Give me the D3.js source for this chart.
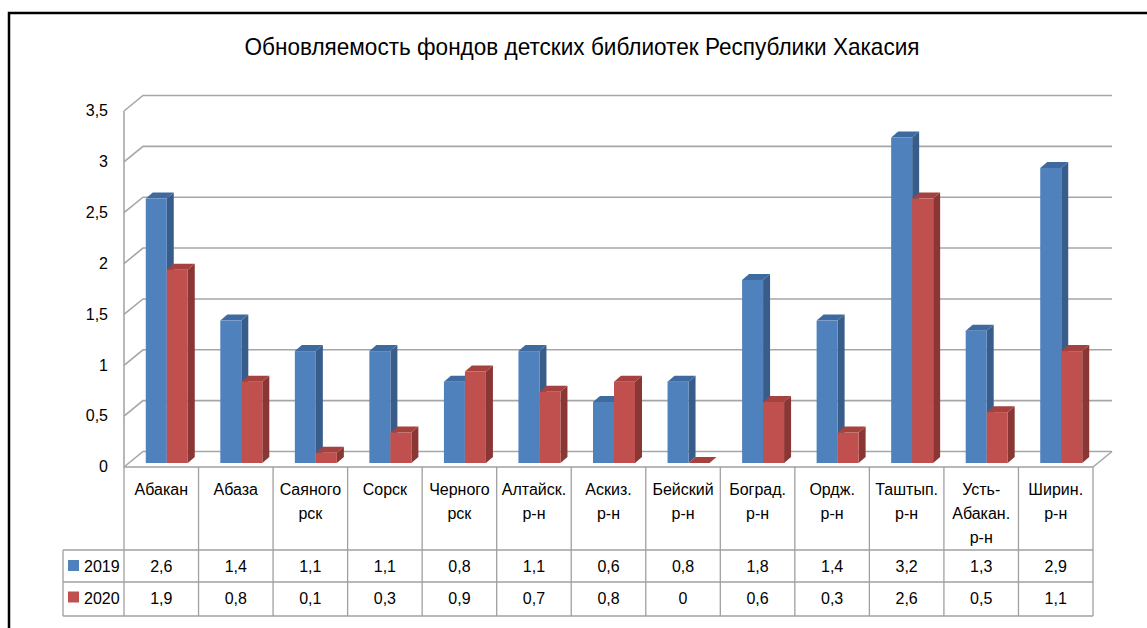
<!DOCTYPE html>
<html>
<head>
<meta charset="utf-8">
<script src="https://cdn.jsdelivr.net/npm/d3@7"></script>
<style>
  body { margin: 0; background: #fff; }
  svg { display: block; font-family: "Liberation Sans", Arial, sans-serif; }
</style>
</head>
<body>
<div id="chart"></div>
<script>
// ---- data ----
const title = "Обновляемость фондов детских библиотек Республики Хакасия";
const categories = ["Абакан", "Абаза", "Саяного\nрск", "Сорск", "Черного\nрск", "Алтайск.\nр-н",
  "Аскиз.\nр-н", "Бейский\nр-н", "Боград.\nр-н", "Ордж.\nр-н", "Таштып.\nр-н",
  "Усть-\nАбакан.\nр-н", "Ширин.\nр-н"];
const seriesNames = ["2019", "2020"];
const values2019 = [2.6, 1.4, 1.1, 1.1, 0.8, 1.1, 0.6, 0.8, 1.8, 1.4, 3.2, 1.3, 2.9];
const values2020 = [1.9, 0.8, 0.1, 0.3, 0.9, 0.7, 0.8, 0, 0.6, 0.3, 2.6, 0.5, 1.1];
const yTicks = [0, 0.5, 1, 1.5, 2, 2.5, 3, 3.5];

const W = 1147, H = 628;
const front = { left: 124, right: 1093, top: 111, bottom: 467 };
const depth = { dx: 19, dy: -15.5 };     // wall depth
const barShift = { dx: 5.5, dy: -4 };    // bars sit a bit behind the front plane
const barDepth = { dx: 7, dy: -6 };
const barW = 21;

const colors = [
  { front: "#4f81bd", side: "#385d8a", top: "#3f6aa0" },
  { front: "#c0504d", side: "#8a3634", top: "#a5423f" }
];
const gridColor = "#a6a6a6";
const lineColor = "#a0a0a0";
const fontSize = "16px";
const fmt = v => String(v).replace(".", ",");

const svg = d3.select("#chart").append("svg")
  .attr("width", W).attr("height", H);

// outer frame
svg.append("path")
  .attr("d", `M9,${H + 10} V13 H${W + 10}`)
  .attr("fill", "none").attr("stroke", "#000").attr("stroke-width", 2.5);

// title
svg.append("text")
  .attr("x", 582).attr("y", 55)
  .attr("text-anchor", "middle")
  .attr("textLength", 675).attr("lengthAdjust", "spacingAndGlyphs")
  .style("font-size", "24px").style("fill", "#000")
  .text(title);

// ---- scales ----
const x = d3.scaleBand().domain(categories).range([front.left, front.right]);
const y = d3.scaleLinear().domain([0, 3.5]).range([front.bottom, front.top]);

// ---- walls / gridlines ----
const grid = svg.append("g");
yTicks.forEach(t => {
  const yf = y(t);
  grid.append("path")
    .attr("d", `M${front.left},${yf} L${front.left + depth.dx},${yf + depth.dy} H${front.right + depth.dx}`)
    .attr("fill", "none").attr("stroke", gridColor).attr("stroke-width", 1.6);
});
// left axis line
grid.append("line")
  .attr("x1", front.left).attr("x2", front.left)
  .attr("y1", y(3.5)).attr("y2", front.bottom)
  .attr("stroke", gridColor).attr("stroke-width", 1.6);
// floor right edge
grid.append("line")
  .attr("x1", front.right).attr("y1", front.bottom)
  .attr("x2", front.right + depth.dx).attr("y2", front.bottom + depth.dy)
  .attr("stroke", gridColor).attr("stroke-width", 1.6);

// y tick labels
svg.append("g").selectAll("text")
  .data(yTicks).enter().append("text")
  .attr("x", 108).attr("y", d => y(d) + 1)
  .attr("text-anchor", "end").attr("dominant-baseline", "middle")
  .style("font-size", fontSize).style("fill", "#000")
  .text(fmt);

// ---- 3D bars ----
const bars = [];
categories.forEach((c, i) => {
  [values2019, values2020].forEach((vals, s) => {
    bars.push({ cat: c, s, v: vals[i] });
  });
});

const barG = svg.append("g");
bars.forEach(d => {
  const cx = x(d.cat) + x.bandwidth() / 2 + barShift.dx;
  const x0 = cx - barW + d.s * barW;
  const x1 = x0 + barW;
  const yb = y(0) + barShift.dy;
  const yt = y(d.v) + barShift.dy;
  const c = colors[d.s];
  const g = barG.append("g");
  // side
  g.append("path")
    .attr("d", `M${x1},${yt} L${x1 + barDepth.dx},${yt + barDepth.dy} L${x1 + barDepth.dx},${yb + barDepth.dy} L${x1},${yb} Z`)
    .attr("fill", c.side);
  // top
  g.append("path")
    .attr("d", `M${x0},${yt} L${x0 + barDepth.dx},${yt + barDepth.dy} L${x1 + barDepth.dx},${yt + barDepth.dy} L${x1},${yt} Z`)
    .attr("fill", c.top);
  // front
  g.append("rect")
    .attr("x", x0).attr("y", yt)
    .attr("width", barW).attr("height", Math.max(0, yb - yt))
    .attr("fill", c.front);
});

// ---- data table ----
const tbl = svg.append("g");
const rowTop = front.bottom, row1 = 550, row2 = 582, row3 = 616;
const legendLeft = 63;

// horizontal lines
tbl.append("line").attr("x1", front.left).attr("x2", front.right)
  .attr("y1", rowTop).attr("y2", rowTop)
  .attr("stroke", lineColor).attr("stroke-width", 1.6);
[row1, row2, row3].forEach(yy => {
  tbl.append("line").attr("x1", legendLeft).attr("x2", front.right)
    .attr("y1", yy).attr("y2", yy)
    .attr("stroke", lineColor).attr("stroke-width", 1.3);
});
// vertical lines
const vx = categories.map(c => x(c)).concat([front.right]);
vx.forEach(xx => {
  tbl.append("line").attr("x1", xx).attr("x2", xx)
    .attr("y1", rowTop).attr("y2", row3)
    .attr("stroke", lineColor).attr("stroke-width", 1.3);
});
tbl.append("line").attr("x1", legendLeft).attr("x2", legendLeft)
  .attr("y1", row1).attr("y2", row3)
  .attr("stroke", lineColor).attr("stroke-width", 1.3);

// category labels
categories.forEach(c => {
  const lines = c.split("\n");
  const t = tbl.append("text")
    .attr("text-anchor", "middle")
    .style("font-size", fontSize).style("fill", "#000");
  lines.forEach((ln, k) => {
    t.append("tspan")
      .attr("x", x(c) + x.bandwidth() / 2)
      .attr("y", 495 + k * 24)
      .text(ln);
  });
});

// value rows
[values2019, values2020].forEach((vals, s) => {
  const base = [572, 603.5][s];
  tbl.append("rect")
    .attr("x", 68).attr("y", base - 12)
    .attr("width", 11).attr("height", 11)
    .attr("fill", colors[s].front);
  tbl.append("text")
    .attr("x", 84).attr("y", base)
    .style("font-size", fontSize).style("fill", "#000")
    .text(seriesNames[s]);
  categories.forEach((c, i) => {
    tbl.append("text")
      .attr("x", x(c) + x.bandwidth() / 2).attr("y", base)
      .attr("text-anchor", "middle")
      .style("font-size", fontSize).style("fill", "#000")
      .text(fmt(vals[i]));
  });
});
</script>
</body>
</html>
